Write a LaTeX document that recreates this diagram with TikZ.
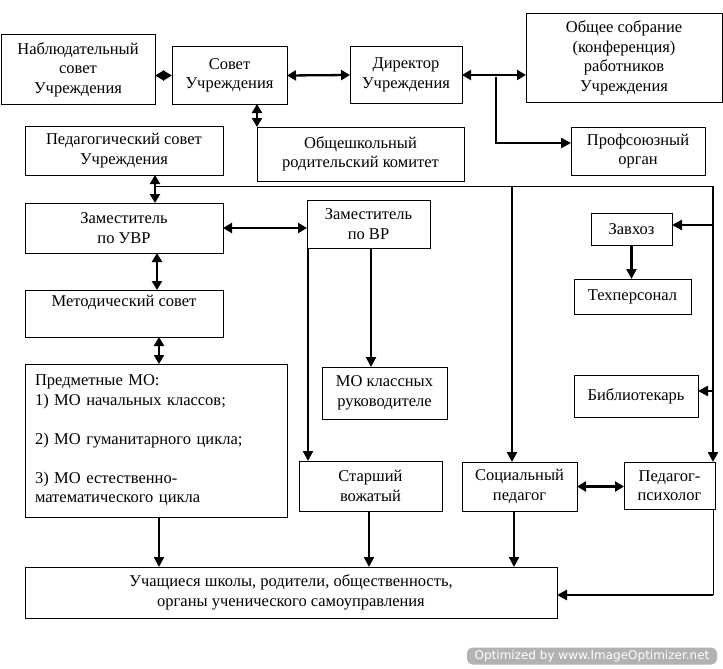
\documentclass[tikz,border=0pt]{standalone}
\usepackage{fontspec}
\setmainfont{Liberation Serif}
\newfontfamily\wmfont{DejaVu Sans}
\usetikzlibrary{arrows.meta,calc}
\tikzset{
  box/.style={draw, line width=1pt, inner sep=2pt, outer sep=0pt, align=center,
    font=\fontsize{16.5}{19.5}\selectfont},
  arr/.style={line width=2.3pt, -{Triangle[length=10pt,width=10pt]}},
  darr/.style={line width=2.3pt, {Triangle[length=9pt,width=10pt]}-{Triangle[length=9pt,width=10pt]}},
  thinline/.style={line width=1pt},
}
\newcommand\Bx[6]{\node[box, anchor=north west, minimum width={(#4-#2)*1pt}, minimum height={(#5-#3)*1pt}] (#1) at (#2,#3) {#6};}
\begin{document}
\begin{tikzpicture}[x=1pt,y=-1pt]
\useasboundingbox (0,0) rectangle (723,669);
\Bx{nab}{1}{35}{155}{104}{Наблюдательный\\совет\\Учреждения}
\Bx{sovet}{172}{47}{287}{104}{Совет\\Учреждения}
\Bx{dir}{350}{47}{462}{103}{Директор\\Учреждения}
\Bx{obsh}{526}{14}{722}{102}{Общее собрание\\(конференция)\\работников\\Учреждения}
\Bx{prof}{571}{127}{705}{175}{Профсоюзный\\орган}
\Bx{kom}{257}{127}{464}{181}{Общешкольный\\родительский комитет}
\Bx{ped}{25}{126}{223}{175}{Педагогический совет\\Учреждения}
\Bx{zuvr}{25}{203}{223}{253}{Заместитель\\по УВР}
\Bx{zvr}{307}{200}{430}{248}{Заместитель\\по ВР}
\Bx{met}{25}{290}{223}{337}{Методический совет\\\strut}
\node[box, anchor=north west, minimum height=153pt, text width=242pt, inner xsep=10pt, align=left] (pmo) at (25,364)
  {Предметные МО:\\1) МО начальных классов;\\\strut\\2) МО гуманитарного цикла;\\\strut\\3) МО естественно-\\математического цикла};
\Bx{mok}{322}{367}{447}{419}{МО классных\\руководителе}
\Bx{star}{299}{461}{442}{511}{Старший\\вожатый}
\Bx{soc}{462}{462}{577}{511}{Социальный\\педагог}
\Bx{psy}{624}{462}{715}{509}{Педагог-\\психолог}
\Bx{zav}{591}{213}{672}{245}{Завхоз}
\Bx{tex}{574}{279}{691}{314}{Техперсонал}
\Bx{bib}{574}{375}{698}{417}{Библиотекарь}
\Bx{uch}{25}{567}{557}{618}{Учащиеся школы, родители, общественность,\\органы ученического самоуправления}
% coordinates
\coordinate (hl) at (155,186);
\coordinate (hr) at (713,186);
\coordinate (c157) at (157,0);
\coordinate (c159) at (159,0);
\coordinate (c308) at (308,0);
\coordinate (c369) at (369,0);
\coordinate (c371) at (371,0);
\coordinate (c512) at (512,186);
\coordinate (c514) at (514,0);
\coordinate (c257) at (257,0);
\coordinate (j1) at (496,77);
\coordinate (pb) at (713,595);
% connectors
\draw[darr] (sovet.west) -- (sovet.west -| nab.east);
\draw[darr] (sovet.east) -- (dir.west);
\draw[darr] (dir.east) -- (dir.east -| obsh.west);
\draw[arr] (j1) |- ($(prof.west)+(0,-8)$);
\draw[darr] (sovet.south -| c257) -- (kom.north west);
\draw[thinline] (hl) -- (hr);
\draw[darr] (ped.south -| hl) -- (zuvr.north -| hl);
\draw[darr] (zuvr.east) -- (zuvr.east -| zvr.west);
\draw[darr] (zuvr.south -| c157) -- (met.north -| c157);
\draw[darr] (met.south -| c159) -- (pmo.north -| c159);
\draw[arr] (pmo.south -| c159) -- (uch.north -| c159);
\draw[arr] (zvr.south -| c371) -- (mok.north -| c371);
\draw[arr] (zvr.south -| c308) -- (star.north -| c308);
\draw[arr] (star.south -| c369) -- (uch.north -| c369);
\draw[arr] (c512) -- (soc.north -| c512);
\draw[arr] (soc.south -| c514) -- (uch.north -| c514);
\draw[darr] (soc.east) -- (soc.east -| psy.west);
\draw[arr] (hr) -- (psy.north -| hr);
\draw[arr] ($(zav.east -| hr)+(0,-4)$) -- ($(zav.east)+(0,-4)$);
\draw[arr] ($(bib.east -| hr)+(0,-5)$) -- ($(bib.east)+(0,-5)$);
\draw[arr] (zav.south) -- (tex.north -| zav.south);
\draw[thinline] (psy.south -| hr) -- (pb);
\draw[arr] (pb) -- (uch.east |- pb);
% watermark
\node[fill=gray!60, rounded corners=6pt, text=white, inner sep=0pt, minimum width=250pt, minimum height=17pt,
  font=\wmfont\fontsize{12}{14}\selectfont] (wm) at (592,656) {Optimized by www.ImageOptimizer.net};
\end{tikzpicture}
\end{document}
